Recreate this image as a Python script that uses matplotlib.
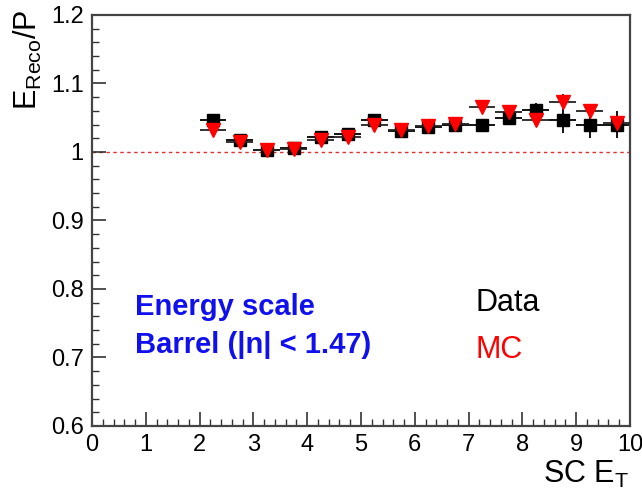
import matplotlib
matplotlib.use('Agg')
import matplotlib.pyplot as plt
from matplotlib.ticker import MultipleLocator, FuncFormatter

plt.rcParams['font.family'] = ['Liberation Sans', 'DejaVu Sans']
plt.rcParams['mathtext.fontset'] = 'custom'
plt.rcParams['mathtext.rm'] = 'Liberation Sans'
plt.rcParams['mathtext.it'] = 'Liberation Sans'

# bin centres in SC E_T, half bin width 0.25
et = [2.25, 2.75, 3.25, 3.75, 4.25, 4.75, 5.25, 5.75, 6.25, 6.75,
      7.25, 7.75, 8.25, 8.75, 9.25, 9.75]
et_err = [0.25] * len(et)

data_val = [1.046, 1.018, 1.003, 1.006, 1.022, 1.026, 1.046, 1.030, 1.037, 1.040,
            1.039, 1.050, 1.061, 1.047, 1.040, 1.040]
data_err = [0.004, 0.003, 0.003, 0.003, 0.003, 0.003, 0.004, 0.004, 0.005, 0.006,
            0.009, 0.010, 0.011, 0.020, 0.020, 0.020]

mc_val = [1.032, 1.015, 1.003, 1.005, 1.017, 1.022, 1.039, 1.032, 1.038, 1.041,
          1.066, 1.058, 1.046, 1.073, 1.060, 1.043]
mc_err = [0.003, 0.003, 0.002, 0.002, 0.002, 0.003, 0.003, 0.003, 0.004, 0.004,
          0.008, 0.006, 0.007, 0.012, 0.010, 0.008]

fig = plt.figure(figsize=(6.42, 4.91), dpi=100)
ax = fig.add_axes([0.1433, 0.1324, 0.838, 0.8371])

ax.axhline(1.0, color='#e03030', linestyle=(0, (2.5, 2.5)), linewidth=1.0, zorder=1)

ax.errorbar(et, mc_val, xerr=et_err, yerr=mc_err, fmt='v', color='red',
            ecolor='#222222', elinewidth=1.3, markersize=9.5, capsize=0, zorder=3)
ax.errorbar(et, data_val, xerr=et_err, yerr=data_err, fmt='s', color='black',
            ecolor='black', elinewidth=1.3, markersize=9, capsize=0, zorder=2)

ax.set_xlim(0, 10)
ax.set_ylim(0.6, 1.2)
ax.xaxis.set_major_locator(MultipleLocator(1))
ax.xaxis.set_minor_locator(MultipleLocator(0.2))
ax.yaxis.set_major_locator(MultipleLocator(0.1))
ax.yaxis.set_minor_locator(MultipleLocator(0.02))
ax.yaxis.set_major_formatter(FuncFormatter(lambda v, p: ('%g' % round(v, 2))))
ax.tick_params(which='both', direction='in', top=False, right=False,
               labelsize=17, color='#333333')
ax.tick_params(which='major', length=10, width=1.2, pad=6)
ax.tick_params(which='minor', length=5, width=1.0)
for s in ax.spines.values():
    s.set_linewidth(1.6)
    s.set_color('#444444')

fig.text(28 / 642, 1 - 10 / 491, r'$\mathrm{E_{Reco}}$/P', rotation=90,
         ha='center', va='top', fontsize=22)
fig.text(629 / 642, 1 / 491, r'SC $\mathrm{E_T}$', ha='right', va='bottom',
         fontsize=22)

ax.text(0.8, 0.774, 'Energy scale', color='#1010ee', fontsize=21,
        fontweight='bold', va='center')
ax.text(0.8, 0.718, 'Barrel (|n| < 1.47)', color='#1010ee', fontsize=21,
        fontweight='bold', va='center')
ax.text(7.12, 0.78, 'Data', color='black', fontsize=22, va='center')
ax.text(7.12, 0.711, 'MC', color='red', fontsize=22, va='center')

fig.savefig('out.png', dpi=100)
